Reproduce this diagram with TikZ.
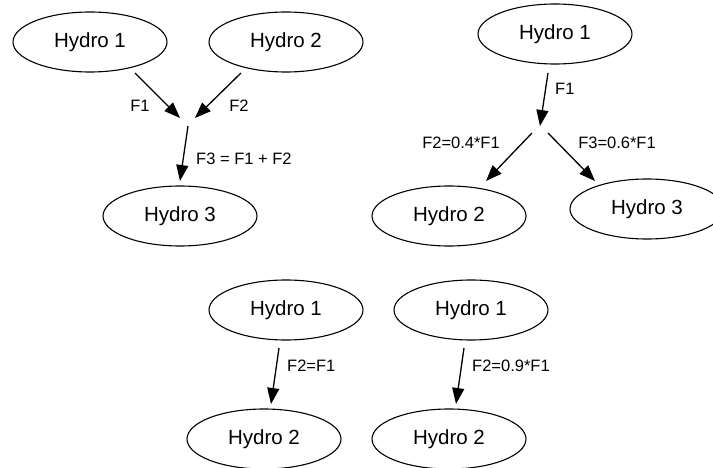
\documentclass[tikz,border=0pt]{standalone}
\usepackage{fontspec}
\setmainfont{Liberation Sans}
\usetikzlibrary{shapes.geometric,arrows.meta}

\tikzset{
  hydro/.style={draw, ellipse, line width=1.1pt, minimum width=154pt,
    minimum height=60pt, inner sep=0pt, font=\fontsize{20.5}{24}\selectfont},
  flow/.style={line width=1.3pt, -{Triangle[length=16pt,width=12pt]}},
  flowlabel/.style={inner sep=0pt, font=\fontsize{16.5}{20}\selectfont}
}

\begin{document}
\begin{tikzpicture}[x=1pt, y=-1pt]
\useasboundingbox (0,0) rectangle (713,468);
\clip (0,0) rectangle (713,468);

% Merging: two reservoirs feed a third
\node[hydro] (a1) at (90,42) {Hydro 1};
\node[hydro] (a2) at (286,42) {Hydro 2};
\node[hydro] (a3) at (180,216) {Hydro 3};
\coordinate (a1out) at (135,73);
\coordinate (a2out) at (241,73);
\coordinate (ajl) at (180,118);
\coordinate (ajr) at (195,118);
\coordinate (ajo) at (188,126);
\coordinate (a3in) at (180,181);
\draw[flow] (a1out) -- (ajl);
\draw[flow] (a2out) -- (ajr);
\draw[flow] (ajo) -- (a3in);
\node[flowlabel] (af1) at (140,106) {F1};
\node[flowlabel] (af2) at (239,106) {F2};
\node[flowlabel, anchor=west] (af3) at (196,159) {F3 = F1 + F2};

% Splitting: one reservoir feeds two
\node[hydro] (b1) at (555,34) {Hydro 1};
\node[hydro] (b2) at (449,216) {Hydro 2};
\node[hydro] (b3) at (647,209) {Hydro 3};
\coordinate (b1out) at (548,73);
\coordinate (bj) at (540,126);
\coordinate (bjl) at (532,133);
\coordinate (bjr) at (548,133);
\coordinate (b2in) at (486,181);
\coordinate (b3in) at (595,181);
\draw[flow] (b1out) -- (bj);
\draw[flow] (bjl) -- (b2in);
\draw[flow] (bjr) -- (b3in);
\node[flowlabel, anchor=west] (bf1) at (555,89) {F1};
\node[flowlabel] (bf2) at (461,143) {F2=0.4*F1};
\node[flowlabel] (bf3) at (617,143) {F3=0.6*F1};

% Single link, full flow
\node[hydro] (c1) at (286,310) {Hydro 1};
\node[hydro] (c2) at (264,439) {Hydro 2};
\coordinate (c1out) at (279,348);
\coordinate (c2in) at (271,404);
\draw[flow] (c1out) -- (c2in);
\node[flowlabel, anchor=west] (cf) at (287,366) {F2=F1};

% Single link, reduced flow
\node[hydro] (d1) at (471,310) {Hydro 1};
\node[hydro] (d2) at (449,439) {Hydro 2};
\coordinate (d1out) at (464,348);
\coordinate (d2in) at (456,404);
\draw[flow] (d1out) -- (d2in);
\node[flowlabel, anchor=west] (df) at (472,366) {F2=0.9*F1};
\end{tikzpicture}
\end{document}
